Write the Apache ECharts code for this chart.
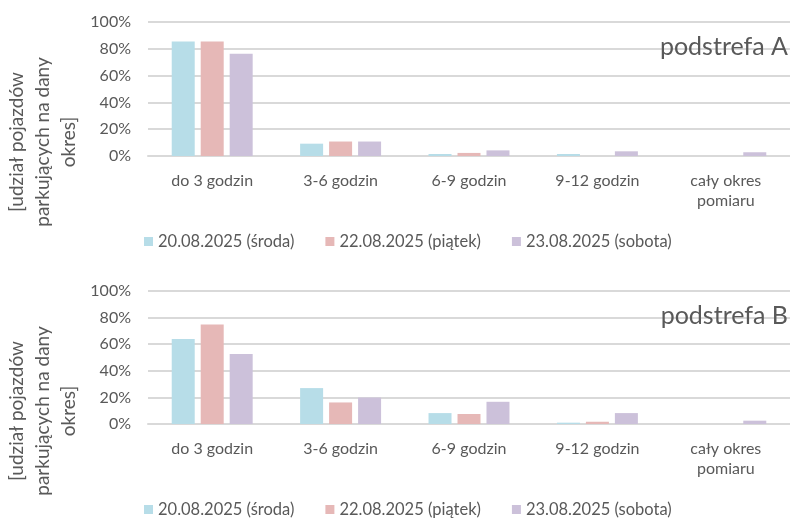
<!DOCTYPE html>
<html>
<head>
<meta charset="utf-8">
<script src="https://cdn.jsdelivr.net/npm/echarts@6/dist/echarts.min.js"></script>
<style>
  html, body { margin: 0; padding: 0; background: #fff; }
  #myChart { width: 790px; height: 518px; }
</style>
</head>
<body>
<div id="myChart"></div>
<script>
// kategorie (oś X)
var categories = ['do 3 godzin', '3-6 godzin', '6-9 godzin', '9-12 godzin', 'cały okres\npomiaru'];
var seriesNames = ['20.08.2025 (środa)', '22.08.2025 (piątek)', '23.08.2025 (sobota)'];
var yTicks = [0, 20, 40, 60, 80, 100]; // etykiety osi Y w %

// podstrefa A
var a_sroda  = [85.5, 9.2, 1.5, 1.5, 0];
var a_piatek = [85.5, 10.8, 2.3, 0, 0];
var a_sobota = [76.3, 10.8, 4.2, 3.5, 2.8];

// podstrefa B
var b_sroda  = [63.9, 27.0, 8.2, 1.0, 0];
var b_piatek = [74.9, 16.2, 7.5, 1.7, 0];
var b_sobota = [52.6, 19.9, 16.7, 8.2, 2.5];

var colors = ['#b7dde8', '#e6b8b7', '#ccc1da'];
var textColor = '#595959';
var font = 'Lato, "Liberation Sans", sans-serif';
var yName = '[udział pojazdów\nparkujących na dany\nokres]';

function xAxisFor(idx) {
  return {
    type: 'category',
    gridIndex: idx,
    data: categories,
    axisTick: { show: false },
    axisLine: { lineStyle: { color: '#d9d9d9', width: 2 } },
    axisLabel: { color: textColor, fontSize: 16, fontFamily: font, lineHeight: 20, margin: 15, interval: 0 }
  };
}

function yAxisFor(idx) {
  return {
    type: 'value',
    gridIndex: idx,
    min: yTicks[0],
    max: yTicks[yTicks.length - 1],
    interval: 20,
    axisLine: { show: false },
    axisTick: { show: false },
    splitLine: { lineStyle: { color: '#d9d9d9', width: 2 } },
    axisLabel: { color: textColor, fontSize: 16, fontFamily: font, margin: 17, formatter: '{value}%' }
  };
}

function barSeries(name, data, idx, ci) {
  return {
    name: name,
    type: 'bar',
    xAxisIndex: idx,
    yAxisIndex: idx,
    data: data,
    barWidth: 23,
    barGap: '26%',
    itemStyle: { color: colors[ci] },
    emphasis: { disabled: true }
  };
}

function legendFor(top) {
  return {
    left: 139,
    top: top,
    data: seriesNames,
    icon: 'rect',
    itemWidth: 9,
    itemHeight: 9,
    itemGap: 31,
    textStyle: { color: textColor, fontSize: 16.5, fontFamily: font }
  };
}

var option = {
  animation: false,
  color: colors,
  title: [
    { text: 'podstrefa A', right: 2, top: 34, padding: 0, z: 0, textStyle: { color: textColor, fontSize: 25, fontWeight: 'normal', fontFamily: font } },
    { text: 'podstrefa B', right: 2, top: 303, padding: 0, z: 0, textStyle: { color: textColor, fontSize: 25, fontWeight: 'normal', fontFamily: font } }
  ],
  legend: [legendFor(228), legendFor(496)],
  grid: [
    { left: 148, top: 22, width: 650, height: 134 },
    { left: 148, top: 291, width: 650, height: 133 }
  ],
  xAxis: [xAxisFor(0), xAxisFor(1)],
  yAxis: [yAxisFor(0), yAxisFor(1)],
  graphic: [
    { type: 'text', x: 43, y: 142, rotation: Math.PI / 2,
      style: { text: yName, fill: textColor, font: '19px ' + font, align: 'center', verticalAlign: 'middle', lineHeight: 26 } },
    { type: 'text', x: 43, y: 411, rotation: Math.PI / 2,
      style: { text: yName, fill: textColor, font: '19px ' + font, align: 'center', verticalAlign: 'middle', lineHeight: 26 } }
  ],
  series: [
    barSeries(seriesNames[0], a_sroda, 0, 0),
    barSeries(seriesNames[1], a_piatek, 0, 1),
    barSeries(seriesNames[2], a_sobota, 0, 2),
    barSeries(seriesNames[0], b_sroda, 1, 0),
    barSeries(seriesNames[1], b_piatek, 1, 1),
    barSeries(seriesNames[2], b_sobota, 1, 2)
  ]
};

var myChart = echarts.init(document.getElementById('myChart'));
myChart.setOption(option);
</script>
</body>
</html>
